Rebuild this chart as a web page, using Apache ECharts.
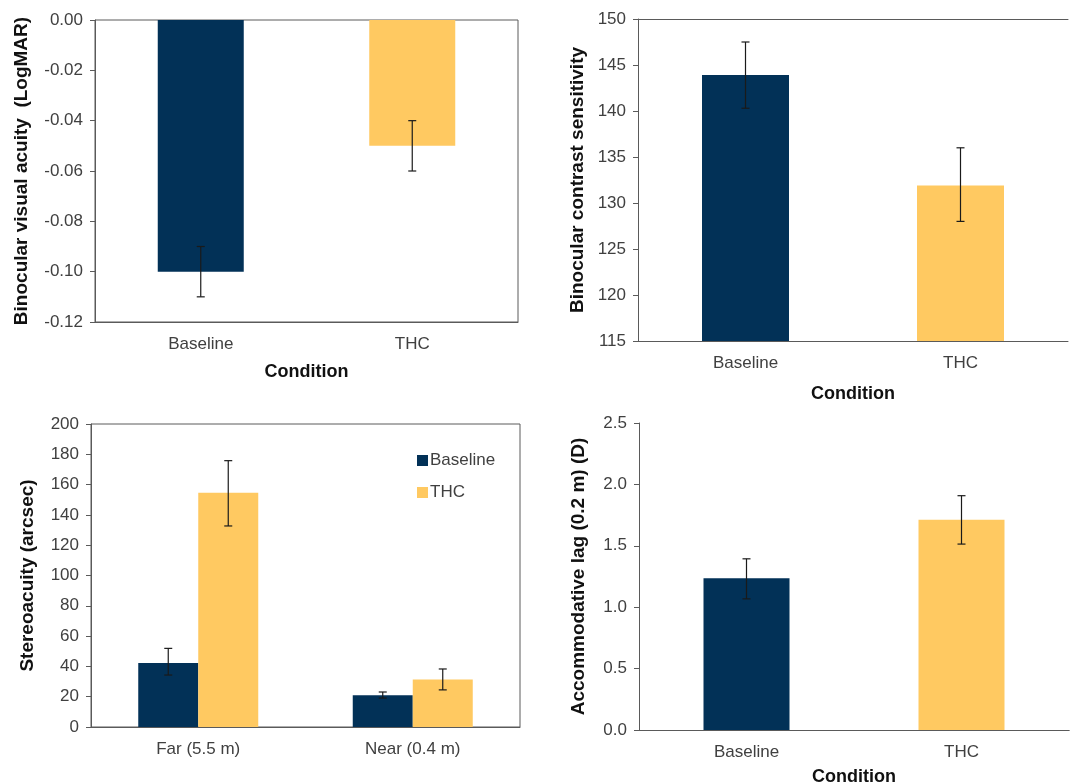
<!DOCTYPE html>
<html>
<head>
<meta charset="utf-8">
<script src="https://cdn.jsdelivr.net/npm/echarts@6/dist/echarts.min.js"></script>
<style>
html,body{margin:0;padding:0;background:#fff;}
#chart{width:1072px;height:784px;}
</style>
</head>
<body>
<div id="chart"></div>
<script>
// ---- Data ----
const conditions = ['Baseline', 'THC'];
const distances = ['Far (5.5 m)', 'Near (0.4 m)'];

const acuityMean = [-0.10, -0.05];
const acuityLow = [-0.11, -0.06];
const acuityHigh = [-0.09, -0.04];
const acuityTicks = { min: -0.12, max: 0, interval: 0.02 };

const contrastMean = [143.9, 131.9];
const contrastLow = [140.3, 128.0];
const contrastHigh = [147.5, 136.0];
const contrastTicks = { min: 115, max: 150, interval: 5 };

const stereoBaseline = [42.3, 21.0];
const stereoBaselineLow = [34.3, 19.1];
const stereoBaselineHigh = [51.9, 23.1];
const stereoTHC = [154.6, 31.3];
const stereoTHCLow = [132.7, 24.5];
const stereoTHCHigh = [175.8, 38.3];
const stereoTicks = { min: 0, max: 200, interval: 20 };

const lagMean = [1.236, 1.712];
const lagLow = [1.068, 1.514];
const lagHigh = [1.394, 1.908];
const lagTicks = { min: 0, max: 2.5, interval: 0.5 };

// ---- Styles ----
const NAVY = '#023157';
const GOLD = '#ffc961';
const condColors = [NAVY, GOLD];
const AXIS = '#5a5a5a';
const TXT = '#404040';
const FONT = '"Liberation Sans", Arial, sans-serif';

const chart = echarts.init(document.getElementById('chart'), null, { renderer: 'canvas' });

function errRender(offset) {
  return function (params, api) {
    const x = api.value(0);
    const lo = api.coord([x, api.value(1)]);
    const hi = api.coord([x, api.value(2)]);
    const cx = lo[0] + offset;
    const cap = 4;
    const st = { stroke: '#1a1a1a', lineWidth: 1.2 };
    return {
      type: 'group',
      children: [
        { type: 'line', shape: { x1: cx, y1: lo[1], x2: cx, y2: hi[1] }, style: st },
        { type: 'line', shape: { x1: cx - cap, y1: lo[1], x2: cx + cap, y2: lo[1] }, style: st },
        { type: 'line', shape: { x1: cx - cap, y1: hi[1], x2: cx + cap, y2: hi[1] }, style: st }
      ]
    };
  };
}

function errData(low, high) {
  return low.map((l, i) => [i, l, high[i]]);
}

function catAxis(gi, cats, name, nameGap) {
  return {
    type: 'category', gridIndex: gi, data: cats, position: 'bottom',
    axisLine: { onZero: false, lineStyle: { color: AXIS, width: 1 } },
    axisTick: { show: false },
    axisLabel: { color: TXT, fontSize: 17, fontFamily: FONT, margin: 14 },
    name: name, nameLocation: 'middle', nameGap: nameGap,
    nameTextStyle: { color: '#111', fontSize: 18, fontWeight: 'bold', fontFamily: FONT }
  };
}

function valAxis(gi, t, name, nameGap, fmt) {
  return {
    type: 'value', gridIndex: gi, min: t.min, max: t.max, interval: t.interval,
    axisLine: { show: true, lineStyle: { color: AXIS, width: 1 } },
    axisTick: { show: true, length: 5, lineStyle: { color: AXIS } },
    splitLine: { show: false },
    axisLabel: { color: TXT, fontSize: 17, fontFamily: FONT, margin: 12, formatter: fmt },
    name: name, nameLocation: 'middle', nameGap: nameGap,
    nameTextStyle: { color: '#111', fontSize: 19, fontWeight: 'bold', fontFamily: FONT }
  };
}

function topLine(gi) {
  return {
    type: 'category', gridIndex: gi, position: 'top', data: conditions,
    axisLine: { show: true, lineStyle: { color: AXIS, width: 1 } },
    axisTick: { show: false }, axisLabel: { show: false }
  };
}

const option = {
  backgroundColor: '#fff',
  animation: false,
  textStyle: { fontFamily: FONT },
  grid: [
    { left: 95, top: 20, width: 423, height: 302, show: true, borderColor: AXIS, borderWidth: 1, outerBoundsMode: 'none', containLabel: false },
    { left: 638, top: 19, width: 430, height: 322, outerBoundsMode: 'none', containLabel: false },
    { left: 91, top: 424, width: 429, height: 303, show: true, borderColor: AXIS, borderWidth: 1, outerBoundsMode: 'none', containLabel: false },
    { left: 639, top: 423, width: 430, height: 307, outerBoundsMode: 'none', containLabel: false }
  ],
  legend: {
    data: ['Baseline', 'THC'], orient: 'vertical', left: 412, top: 447,
    itemWidth: 11, itemHeight: 11, itemGap: 15, icon: 'rect',
    textStyle: { color: TXT, fontSize: 17, fontFamily: FONT, padding: [0, 0, 0, -3] }, itemStyle: { borderWidth: 0 }
  },
  xAxis: [
    catAxis(0, conditions, 'Condition', 41),
    catAxis(1, conditions, 'Condition', 44),
    catAxis(2, distances, '', 30),
    catAxis(3, conditions, 'Condition', 38),
    topLine(1),
    topLine(3)
  ],
  yAxis: [
    valAxis(0, acuityTicks, 'Binocular visual acuity  (LogMAR)', 64, v => v.toFixed(2)),
    valAxis(1, contrastTicks, 'Binocular contrast sensitivity', 51, v => String(v)),
    valAxis(2, stereoTicks, 'Stereoacuity (arcsec)', 54, v => String(v)),
    valAxis(3, lagTicks, 'Accommodative lag (0.2 m) (D)', 51, v => v.toFixed(1))
  ],
  series: [
    {
      type: 'bar', xAxisIndex: 0, yAxisIndex: 0, barWidth: 86,
      data: acuityMean.map((v, i) => ({ value: v, itemStyle: { color: condColors[i] } }))
    },
    { type: 'custom', xAxisIndex: 0, yAxisIndex: 0, renderItem: errRender(0), data: errData(acuityLow, acuityHigh), z: 5 },
    {
      type: 'bar', xAxisIndex: 1, yAxisIndex: 1, barWidth: 87,
      data: contrastMean.map((v, i) => ({ value: v, itemStyle: { color: condColors[i] } }))
    },
    { type: 'custom', xAxisIndex: 1, yAxisIndex: 1, renderItem: errRender(0), data: errData(contrastLow, contrastHigh), z: 5 },
    {
      name: 'Baseline', type: 'bar', xAxisIndex: 2, yAxisIndex: 2, barWidth: 60, barGap: '0%',
      itemStyle: { color: NAVY }, data: stereoBaseline
    },
    {
      name: 'THC', type: 'bar', xAxisIndex: 2, yAxisIndex: 2, barWidth: 60, barGap: '0%',
      itemStyle: { color: GOLD }, data: stereoTHC
    },
    { type: 'custom', xAxisIndex: 2, yAxisIndex: 2, renderItem: errRender(-30), data: errData(stereoBaselineLow, stereoBaselineHigh), z: 5 },
    { type: 'custom', xAxisIndex: 2, yAxisIndex: 2, renderItem: errRender(30), data: errData(stereoTHCLow, stereoTHCHigh), z: 5 },
    {
      type: 'bar', xAxisIndex: 3, yAxisIndex: 3, barWidth: 86,
      data: lagMean.map((v, i) => ({ value: v, itemStyle: { color: condColors[i] } }))
    },
    { type: 'custom', xAxisIndex: 3, yAxisIndex: 3, renderItem: errRender(0), data: errData(lagLow, lagHigh), z: 5 }
  ]
};

chart.setOption(option);
</script>
</body>
</html>
